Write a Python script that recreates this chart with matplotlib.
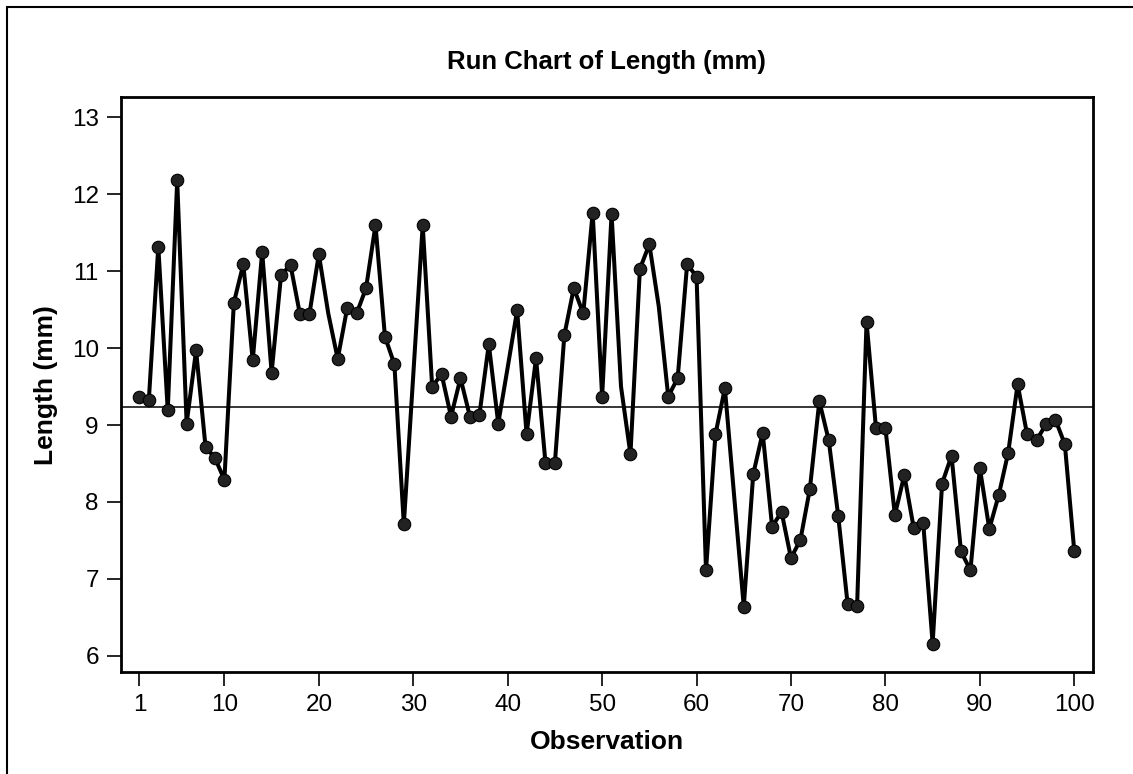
import numpy as np
from matplotlib import pyplot as plt
from matplotlib.patches import Rectangle

# valores (Length, mm), observações 1..100
obs = list(range(1, 101))
length = [9.37, 9.33, 11.32, 9.19, 12.18, 9.02, 9.97, 8.72, 8.57, 8.29,
          10.59, 11.09, 9.84, 11.25, 9.68, 10.95, 11.08, 10.44, 10.44, 11.22,
          10.45, 9.86, 10.52, 10.45, 10.78, 11.60, 10.15, 9.79, 7.71, 9.65,
          11.60, 9.50, 9.66, 9.11, 9.61, 9.11, 9.13, 10.05, 9.02, 9.75,
          10.49, 8.88, 9.87, 8.51, 8.51, 10.17, 10.78, 10.45, 11.76, 9.37,
          11.74, 9.50, 8.62, 11.03, 11.35, 10.54, 9.37, 9.61, 11.09, 10.93,
          7.11, 8.88, 9.48, 8.05, 6.64, 8.36, 8.90, 7.68, 7.87, 7.27,
          7.51, 8.17, 9.31, 8.80, 7.82, 6.67, 6.65, 10.34, 8.96, 8.96,
          7.83, 8.35, 7.66, 7.73, 6.16, 8.24, 8.60, 7.36, 7.11, 8.44,
          7.65, 8.09, 8.64, 9.53, 8.88, 8.80, 9.01, 9.07, 8.75, 7.36]
# pontos que aparecem sem marcador no original
sem_marcador = [21, 30, 40, 52, 56, 64]
mediana = 9.24
xticks = [1, 10, 20, 30, 40, 50, 60, 70, 80, 90, 100]
yticks = [6, 7, 8, 9, 10, 11, 12, 13]

plt.rcParams['font.family'] = ['Liberation Sans', 'DejaVu Sans']

W, H = 1133, 774
fig = plt.figure(figsize=(W / 100, H / 100), dpi=100)
ax = fig.add_axes([121 / W, 1 - 672 / H, (1092.7 - 121) / W, (672 - 97.3) / H])

marcas = [i for i, o in enumerate(obs) if o not in sem_marcador]
ax.plot(obs, length, color='black', lw=2.9, marker='o', markersize=9,
        markerfacecolor='#222222', markeredgecolor='black', markeredgewidth=0.8,
        markevery=marcas, zorder=3)
ax.axhline(mediana, color='black', lw=1.1, zorder=2)

ax.set_xlim(-0.95, 101.95)
ax.set_ylim(5.79, 13.26)
ax.set_xticks(xticks)
ax.set_yticks(yticks)
ax.tick_params(direction='out', length=10, width=1.2, labelsize=17.5, pad=6)
for s in ax.spines.values():
    s.set_linewidth(2)

ax.set_xlabel("Observation", fontsize=19, fontweight='bold', labelpad=10)
ax.set_ylabel("Length (mm)", fontsize=19, fontweight='bold', labelpad=10)
fig.text((121 + 1092.7) / 2 / W, 1 - 62 / H, "Run Chart of Length (mm)",
         ha='center', va='center', fontsize=18.5, fontweight='bold')

# moldura externa
fig.patches.append(Rectangle((7 / W, -0.1), 1.2, (H - 7) / H + 0.1,
                             transform=fig.transFigure, fill=False,
                             lw=1.5, edgecolor='black'))

plt.savefig("out.png", dpi=100)
